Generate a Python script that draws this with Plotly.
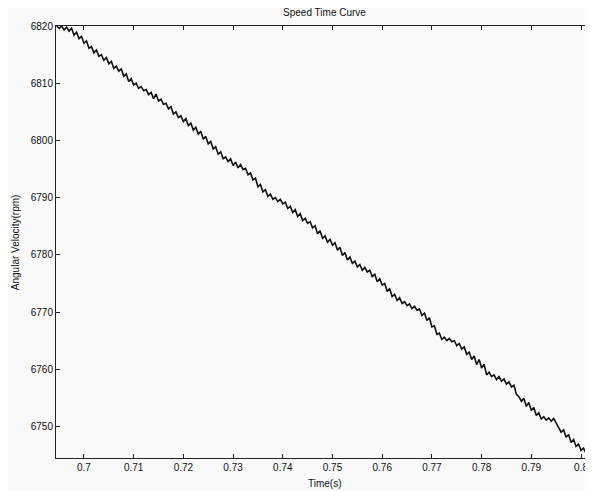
import numpy as np
import plotly.graph_objects as go

t_start = 0.6945
t_step = 0.0005
speed_rpm = [
    6820.0, 6819.6, 6820.0, 6819.3, 6819.8, 6819.1, 6819.6, 6818.4, 6818.9, 6817.8,
    6818.2, 6817.0, 6817.4, 6816.1, 6816.4, 6815.3, 6815.8, 6814.7, 6815.0, 6814.0,
    6814.5, 6813.4, 6813.8, 6812.6, 6813.0, 6812.1, 6812.5, 6811.2, 6811.6, 6810.3,
    6810.8, 6809.7, 6810.0, 6809.1, 6809.4, 6808.7, 6808.9, 6808.0, 6808.4, 6807.3,
    6808.1, 6806.9, 6807.2, 6806.3, 6806.5, 6805.5, 6805.9, 6804.6, 6805.0, 6804.0,
    6804.3, 6803.3, 6803.8, 6802.6, 6803.0, 6801.8, 6802.3, 6801.1, 6801.6, 6800.2,
    6800.7, 6799.4, 6799.8, 6798.5, 6798.9, 6797.6, 6798.0, 6796.8, 6797.1, 6796.3,
    6796.8, 6795.6, 6796.2, 6795.2, 6795.8, 6794.9, 6795.1, 6794.0, 6794.3, 6793.1,
    6793.4, 6791.9, 6792.3, 6791.0, 6791.4, 6790.2, 6790.6, 6789.7, 6790.0, 6789.3,
    6789.7, 6788.9, 6789.2, 6788.1, 6788.5, 6787.4, 6787.9, 6786.7, 6787.2, 6786.0,
    6786.4, 6785.5, 6785.8, 6784.7, 6785.1, 6783.7, 6784.2, 6782.9, 6783.3, 6782.2,
    6782.7, 6781.7, 6782.1, 6780.8, 6781.3, 6779.9, 6780.4, 6779.1, 6779.6, 6778.5,
    6778.9, 6777.9, 6778.3, 6777.3, 6777.8, 6777.0, 6777.3, 6776.2, 6776.6, 6775.3,
    6775.8, 6774.7, 6775.0, 6773.6, 6774.1, 6772.7, 6773.1, 6772.0, 6772.5, 6771.5,
    6771.8, 6771.1, 6771.4, 6770.6, 6771.0, 6770.3, 6770.5, 6769.4, 6769.8, 6768.5,
    6769.0, 6767.4, 6767.6, 6766.1, 6766.3, 6765.2, 6765.6, 6765.0, 6765.4, 6764.8,
    6765.0, 6764.1, 6764.5, 6763.5, 6763.9, 6762.6, 6763.0, 6761.7, 6762.3, 6760.8,
    6761.7, 6760.2, 6760.9, 6759.0, 6759.5, 6758.7, 6759.0, 6758.2, 6758.7, 6757.9,
    6758.3, 6757.4, 6757.8, 6756.9, 6757.2, 6755.6, 6755.2, 6754.4, 6754.9, 6753.5,
    6754.2, 6752.8, 6753.3, 6751.9, 6752.4, 6751.3, 6751.7, 6751.1, 6751.5, 6750.9,
    6751.4, 6750.7, 6749.8, 6749.0, 6749.4, 6748.1, 6748.6, 6747.2, 6747.7, 6746.5,
    6746.9, 6745.8, 6746.2, 6745.3, 6745.8, 6745.2,
]
time_s = np.round(t_start + t_step * np.arange(len(speed_rpm)), 4)

x_ticks = [0.70, 0.71, 0.72, 0.73, 0.74, 0.75, 0.76, 0.77, 0.78, 0.79, 0.80]
x_tick_text = ["0.7", "0.71", "0.72", "0.73", "0.74", "0.75", "0.76", "0.77", "0.78", "0.79", "0.8"]
y_ticks = [6750, 6760, 6770, 6780, 6790, 6800, 6810, 6820]

font_family = "Liberation Sans, Arial, sans-serif"

fig = go.Figure()
fig.add_trace(go.Scatter(
    x=time_s, y=speed_rpm, mode="lines",
    line=dict(color="#111111", width=1.6),
    showlegend=False,
))

axis_common = dict(
    showgrid=False, zeroline=False, showline=True, linecolor="#222222", linewidth=1,
    mirror="allticks", ticks="inside", ticklen=4, tickcolor="#222222",
    tickfont=dict(family=font_family, size=10, color="#111111"),
)

fig.update_xaxes(range=[0.69437, 0.80241], tickvals=x_ticks, ticktext=x_tick_text, **axis_common)
fig.update_yaxes(range=[6744.48, 6820], tickvals=y_ticks, **axis_common)

fig.update_layout(
    width=585, height=483,
    margin=dict(l=48, r=0, t=18, b=33, autoexpand=False),
    paper_bgcolor="#f9f9f9", plot_bgcolor="#f9f9f9",
    title=dict(text="Speed Time Curve", x=0.5, xref="paper", y=0.998, yref="container",
               xanchor="center", yanchor="top",
               font=dict(family=font_family, size=10, color="#111111")),
    annotations=[
        dict(text="Time(s)", xref="paper", yref="paper", x=0.5, y=-0.06,
             xanchor="center", yanchor="middle", showarrow=False,
             font=dict(family=font_family, size=10, color="#111111")),
        dict(text="Angular Velocity(rpm)", xref="paper", yref="paper", x=-0.076, y=0.5,
             xanchor="center", yanchor="middle", textangle=-90, showarrow=False,
             font=dict(family=font_family, size=10, color="#111111")),
    ],
)

fig.write_html("out.html")
